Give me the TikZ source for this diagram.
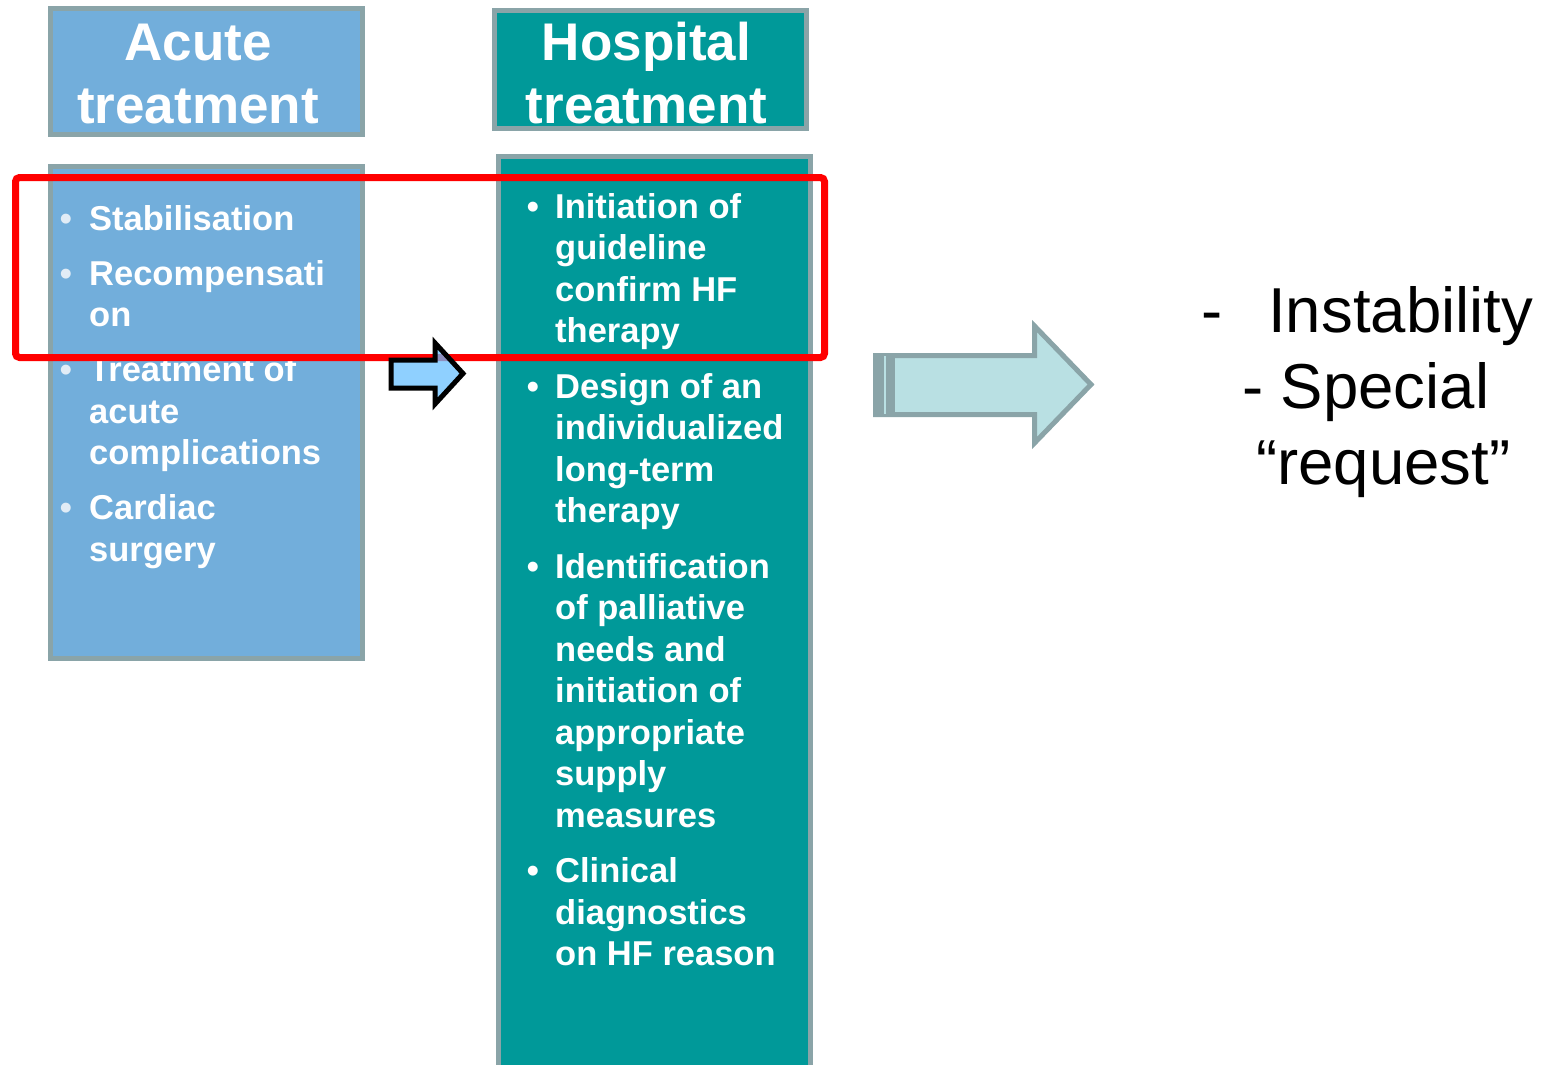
\documentclass[tikz,border=0pt]{standalone}
\usepackage{fontspec}
\setmainfont{Liberation Sans}
\definecolor{acuteblue}{RGB}{114,174,219}
\definecolor{hospteal}{RGB}{0,153,153}
\definecolor{bordergray}{RGB}{138,164,168}
\definecolor{arrowlight}{RGB}{185,224,227}
\definecolor{arrowblue}{RGB}{105,192,255}
\definecolor{acutebullet}{RGB}{225,236,246}
\tikzset{
  box/.style={rectangle, draw=bordergray, line width=5pt, inner sep=0pt, minimum width=312pt},
  headtext/.style={font=\bfseries\fontsize{53}{62}\selectfont, text=white, inner sep=0pt, anchor=base},
  li/.style={font=\bfseries\fontsize{34.5}{41.5}\selectfont, text=white, inner sep=0pt, anchor=base west},
  bul/.style={font=\bfseries\fontsize{34.5}{41.5}\selectfont, inner sep=0pt, anchor=base},
  side/.style={font=\fontsize{63.5}{76}\selectfont, text=black, inner sep=0pt, anchor=base west},
}
\begin{document}
\begin{tikzpicture}[x=1pt,y=-1pt]
\useasboundingbox (0,0) rectangle (1547,1065);
% boxes
\node[box, fill=acuteblue, minimum height=126pt] (acuteHead) at (206.5,71.5) {};
\node[box, fill=acuteblue, minimum height=492pt] (acuteBody) at (206.5,412.5) {};
\node[box, fill=hospteal, minimum height=118pt] (hospHead) at (650.5,69.5) {};
\node[box, fill=hospteal, minimum height=918.5pt] (hospBody) at (654.5,615.75) {};
% headers
\node[headtext] (acuteT1) at (198,61) {Acute};
\node[headtext] (acuteT2) at (198,123) {treatment};
\node[headtext] (hospT1) at (646.5,61) {Hospital};
\node[headtext] (hospT2) at (646.5,123) {treatment};
% acute bullets
\node[bul, text=acutebullet] (ab1) at (66,230) {•};
\node[bul, text=acutebullet] (ab2) at (66,285) {•};
\node[bul, text=acutebullet] (ab3) at (66,381.5) {•};
\node[bul, text=acutebullet] (ab4) at (66,519.5) {•};
\node[li] (a1) at (89,230) {Stabilisation};
\node[li] (a2a) at (89,285) {Recompensati};
\node[li] (a2b) at (89,326.5) {on};
\node[li] (a3a) at (89,381.5) {Treatment of};
\node[li] (a3b) at (89,423) {acute};
\node[li] (a3c) at (89,464.5) {complications};
\node[li] (a4a) at (89,519.5) {Cardiac};
\node[li] (a4b) at (89,561) {surgery};
% hospital bullets
\node[bul, text=white] (hb1) at (533,218) {•};
\node[bul, text=white] (hb2) at (533,398) {•};
\node[bul, text=white] (hb3) at (533,578) {•};
\node[bul, text=white] (hb4) at (533,882.5) {•};
\foreach \t [count=\i from 0] in {Initiation of, guideline, confirm HF, therapy}
  \node[li] (hA\i) at (555,{218+41.5*\i}) {\t};
\foreach \t [count=\i from 0] in {Design of an, individualized, long-term, therapy}
  \node[li] (hB\i) at (555,{398+41.5*\i}) {\t};
\foreach \t [count=\i from 0] in {Identification, of palliative, needs and, initiation of, appropriate, supply, measures}
  \node[li] (hC\i) at (555,{578+41.5*\i}) {\t};
\foreach \t [count=\i from 0] in {Clinical, diagnostics, on HF reason}
  \node[li] (hD\i) at (555,{882.5+41.5*\i}) {\t};
% red frame
\node[rectangle, draw=red, line width=7pt, rounded corners=4pt, inner sep=0pt,
      minimum width=809pt, minimum height=180pt] (focus) at (420,267.5) {};
% small arrow
\draw[line width=5pt, draw=black, fill=arrowblue, fill opacity=0.75, miter limit=10]
  (391,360) -- (435,360) -- (435,343) -- (463,373.5) -- (435,404) -- (435,388) -- (391,388) -- cycle;
% big arrow
\draw[line width=5pt, draw=bordergray, fill=arrowlight, miter limit=10]
  (875.5,355.5) -- (1034.5,355.5) -- (1034.5,326) -- (1091,384.5) -- (1034.5,443) -- (1034.5,414.5) -- (875.5,414.5) -- cycle;
\fill[bordergray] (873,353) rectangle (895,417);
\draw[line width=1.5pt, draw=arrowlight] (885,356) -- (885,414);
% side text
\node[side] (s1) at (1201,332) {-\hspace{46pt}Instability};
\node[side] (s2) at (1242,408) {- Special};
\node[side] (s3) at (1256,484) {“request”};
\end{tikzpicture}
\end{document}
